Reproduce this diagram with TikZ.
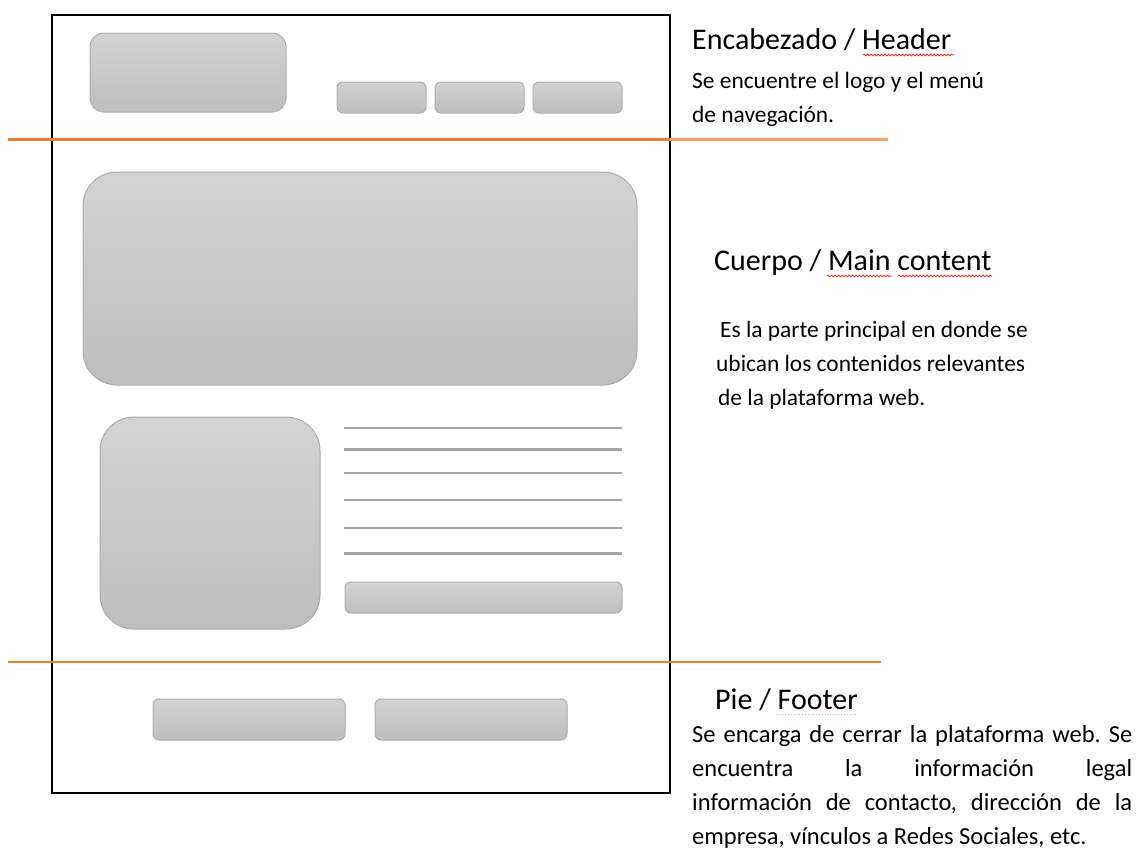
\documentclass[tikz,border=0pt]{standalone}
\usepackage{fontspec}
\setmainfont{Carlito}
\usetikzlibrary{decorations.pathmorphing}
\definecolor{orangeline}{HTML}{ED7D31}
\definecolor{orangelight}{HTML}{F3A164}
\definecolor{boxborder}{HTML}{ADADAD}
\definecolor{boxtop}{HTML}{D3D3D3}
\definecolor{boxbot}{HTML}{BEBEBE}
\definecolor{linegray}{HTML}{A6A6A6}
\definecolor{squig}{HTML}{E03030}
\begin{document}
\begin{tikzpicture}[x=1pt,y=-1pt,
  wbox/.style={draw=boxborder, line width=1, top color=boxtop, bottom color=boxbot, inner sep=0, outer sep=0},
  frame/.style={draw=black, line width=2.5, inner sep=0, outer sep=0},
  sepline/.style={draw=orangeline, line width=2.5},
  textline/.style={draw=linegray, line width=2.5},
  ttl/.style={font=\fontsize{30}{34}\selectfont, inner sep=0, anchor=base west},
  bodytxt/.style={font=\fontsize{23.4}{34}\selectfont, inner sep=0, anchor=base west},
  spell/.style={draw=squig, line width=0.8, decorate, decoration={snake, amplitude=0.9, segment length=3.5}}
]
\useasboundingbox (0,0) rectangle (1138,855);
\fill[white] (0,0) rectangle (1138,855);

% page frame
\node[frame, minimum width=618, minimum height=778] (page) at (361,404) {};

% header
\node[wbox, rounded corners=14, minimum width=196, minimum height=79] (logo) at (188,72.5) {};
\node[wbox, rounded corners=6, minimum width=89, minimum height=31] (nav1) at (381.5,97.5) {};
\node[wbox, rounded corners=6, minimum width=89, minimum height=31] (nav2) at (479.5,97.5) {};
\node[wbox, rounded corners=6, minimum width=89, minimum height=31] (nav3) at (577.5,97.5) {};

% separators
\coordinate (hsA) at (8,139.5);
\coordinate (hsB) at (670,139.5);
\coordinate (hsC) at (888,139.5);
\draw[sepline] (hsA) -- (hsB);
\draw[draw=orangelight, line width=2.5] (hsB) -- (hsC);
\coordinate (fsA) at (8,662);
\coordinate (fsB) at (881,662);
\draw[sepline] (fsA) -- (fsB);

% main content
\node[wbox, rounded corners=34, minimum width=554, minimum height=213] (hero) at (360,278.5) {};
\node[wbox, rounded corners=34, minimum width=220, minimum height=212] (image) at (210,523) {};
\foreach \yy in {428,449.5,473,500,528,553.5} {
  \draw[textline] (344,\yy) -- (622,\yy);
}
\node[wbox, rounded corners=6, minimum width=277, minimum height=31] (more) at (483.5,597.5) {};

% footer
\node[wbox, rounded corners=6, minimum width=192, minimum height=41] (foot1) at (249,719.5) {};
\node[wbox, rounded corners=6, minimum width=192, minimum height=41] (foot2) at (471,719.5) {};

% texts
\node[ttl] (htitle) at (692,49) {Encabezado / Header};
\node[bodytxt] (hl1) at (692,88) {Se encuentre el logo y el menú};
\node[bodytxt] (hl2) at (692,122) {de navegación.};

\node[ttl] (ctitle) at (714,270) {Cuerpo / Main content};
\node[bodytxt] (cl1) at (720,337) {Es la parte principal en donde se};
\node[bodytxt] (cl2) at (716,371) {ubican los contenidos relevantes};
\node[bodytxt] (cl3) at (718,405) {de la plataforma web.};

\node[ttl] (ftitle) at (715,709) {Pie / Footer};
\node[font=\fontsize{24.5}{34}\selectfont, inner sep=0, anchor=north west, text width=440, align=justify] (fpar) at (692,725)
  {\frenchspacing\hyphenpenalty=10000 Se encarga de cerrar la plataforma web. Se\linebreak encuentra la información legal\linebreak información de contacto, dirección de la\linebreak empresa, vínculos a Redes Sociales, etc.};

% spelling marks
\draw[spell] (863,55) -- (954,55);
\draw[spell] (827,276) -- (892,276);
\draw[spell] (898,276) -- (992,276);
\draw[draw=squig!40, line width=0.8, dotted] (777,714) -- (858,714);
\end{tikzpicture}
\end{document}
